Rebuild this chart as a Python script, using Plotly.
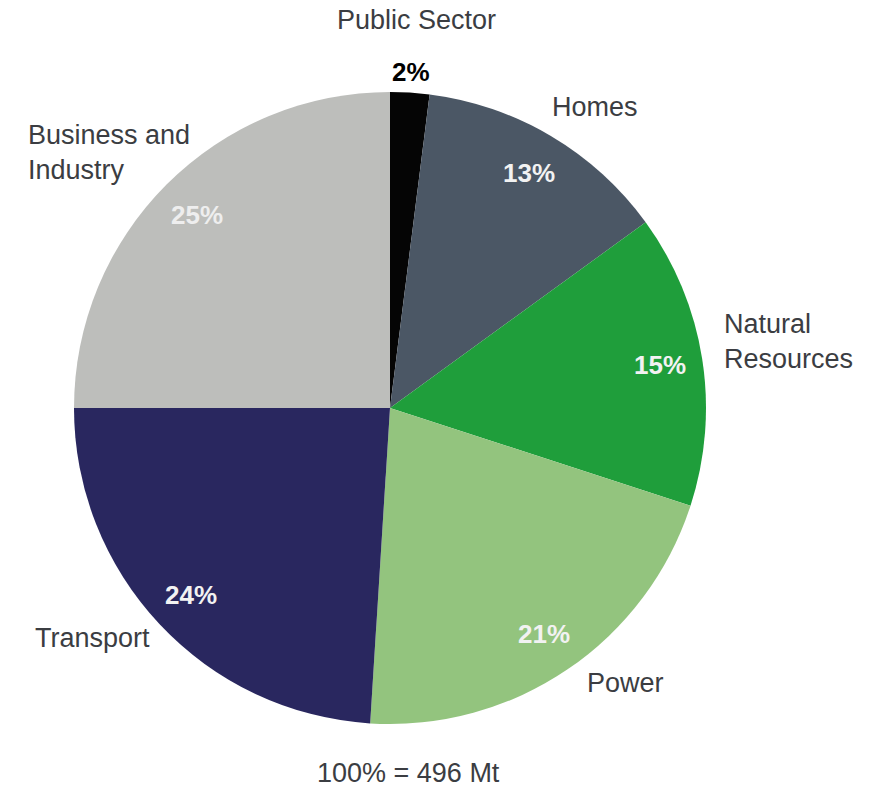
import math
import plotly.graph_objects as go

categories = ["Public Sector", "Homes", "Natural Resources", "Power", "Transport", "Business and Industry"]
shares = [2, 13, 15, 21, 24, 25]
colors = ["#050505", "#4b5765", "#1f9e3b", "#93c47e", "#29275f", "#bdbebb"]
pct_colors = ["#000000", "#f2f2f2", "#f2f2f2", "#f2f2f2", "#f2f2f2", "#eeeeee"]
total_label = "100% = 496 Mt"

W, H = 876, 787
cx, cy, R = 390, 408, 316

fig = go.Figure(go.Pie(
    labels=categories,
    values=shares,
    sort=False,
    direction="clockwise",
    rotation=0,
    marker=dict(colors=colors, line=dict(width=0)),
    textinfo="none",
    hoverinfo="label+percent",
    showlegend=False,
    domain=dict(x=[(cx - R) / W, (cx + R) / W], y=[(H - cy - R) / H, (H - cy + R) / H]),
))

font_family = "Liberation Sans, Arial, Helvetica, sans-serif"
label_color = "#3b3d42"

annotations = []
# percentage labels computed from the data
tot = sum(shares)
cum = 0
for i, v in enumerate(shares):
    mid = (cum + v / 2) / tot * 2 * math.pi
    cum += v
    rf = 1.065 if v < 5 else 0.865
    px = cx + rf * R * math.sin(mid)
    py = cy - rf * R * math.cos(mid)
    annotations.append(dict(
        x=px / W, y=1 - py / H, xref="paper", yref="paper",
        text=f"<b>{v}%</b>", showarrow=False,
        font=dict(family=font_family, size=26, color=pct_colors[i]),
        xanchor="center", yanchor="middle",
    ))

# category labels
cat_pos = {
    "Public Sector": (416, 20, "center"),
    "Homes": (595, 107, "center"),
    "Natural Resources": (722, 341, "left"),
    "Power": (625, 683, "center"),
    "Transport": (92, 638, "center"),
    "Business and Industry": (26, 152, "left"),
}
cat_text = {
    "Natural Resources": "Natural<br>Resources",
    "Business and Industry": "Business and<br>Industry",
}
for c in categories:
    x, y, anc = cat_pos[c]
    annotations.append(dict(
        x=x / W, y=1 - y / H, xref="paper", yref="paper",
        text=cat_text.get(c, c), showarrow=False, align="left",
        font=dict(family=font_family, size=27, color=label_color),
        xanchor=anc, yanchor="middle",
    ))

annotations.append(dict(
    x=408 / W, y=1 - 773 / H, xref="paper", yref="paper",
    text=total_label, showarrow=False,
    font=dict(family=font_family, size=27, color=label_color),
    xanchor="center", yanchor="middle",
))

fig.update_layout(
    width=W, height=H,
    margin=dict(l=0, r=0, t=0, b=0),
    paper_bgcolor="white",
    plot_bgcolor="white",
    annotations=annotations,
)

fig.write_html("out.html")
